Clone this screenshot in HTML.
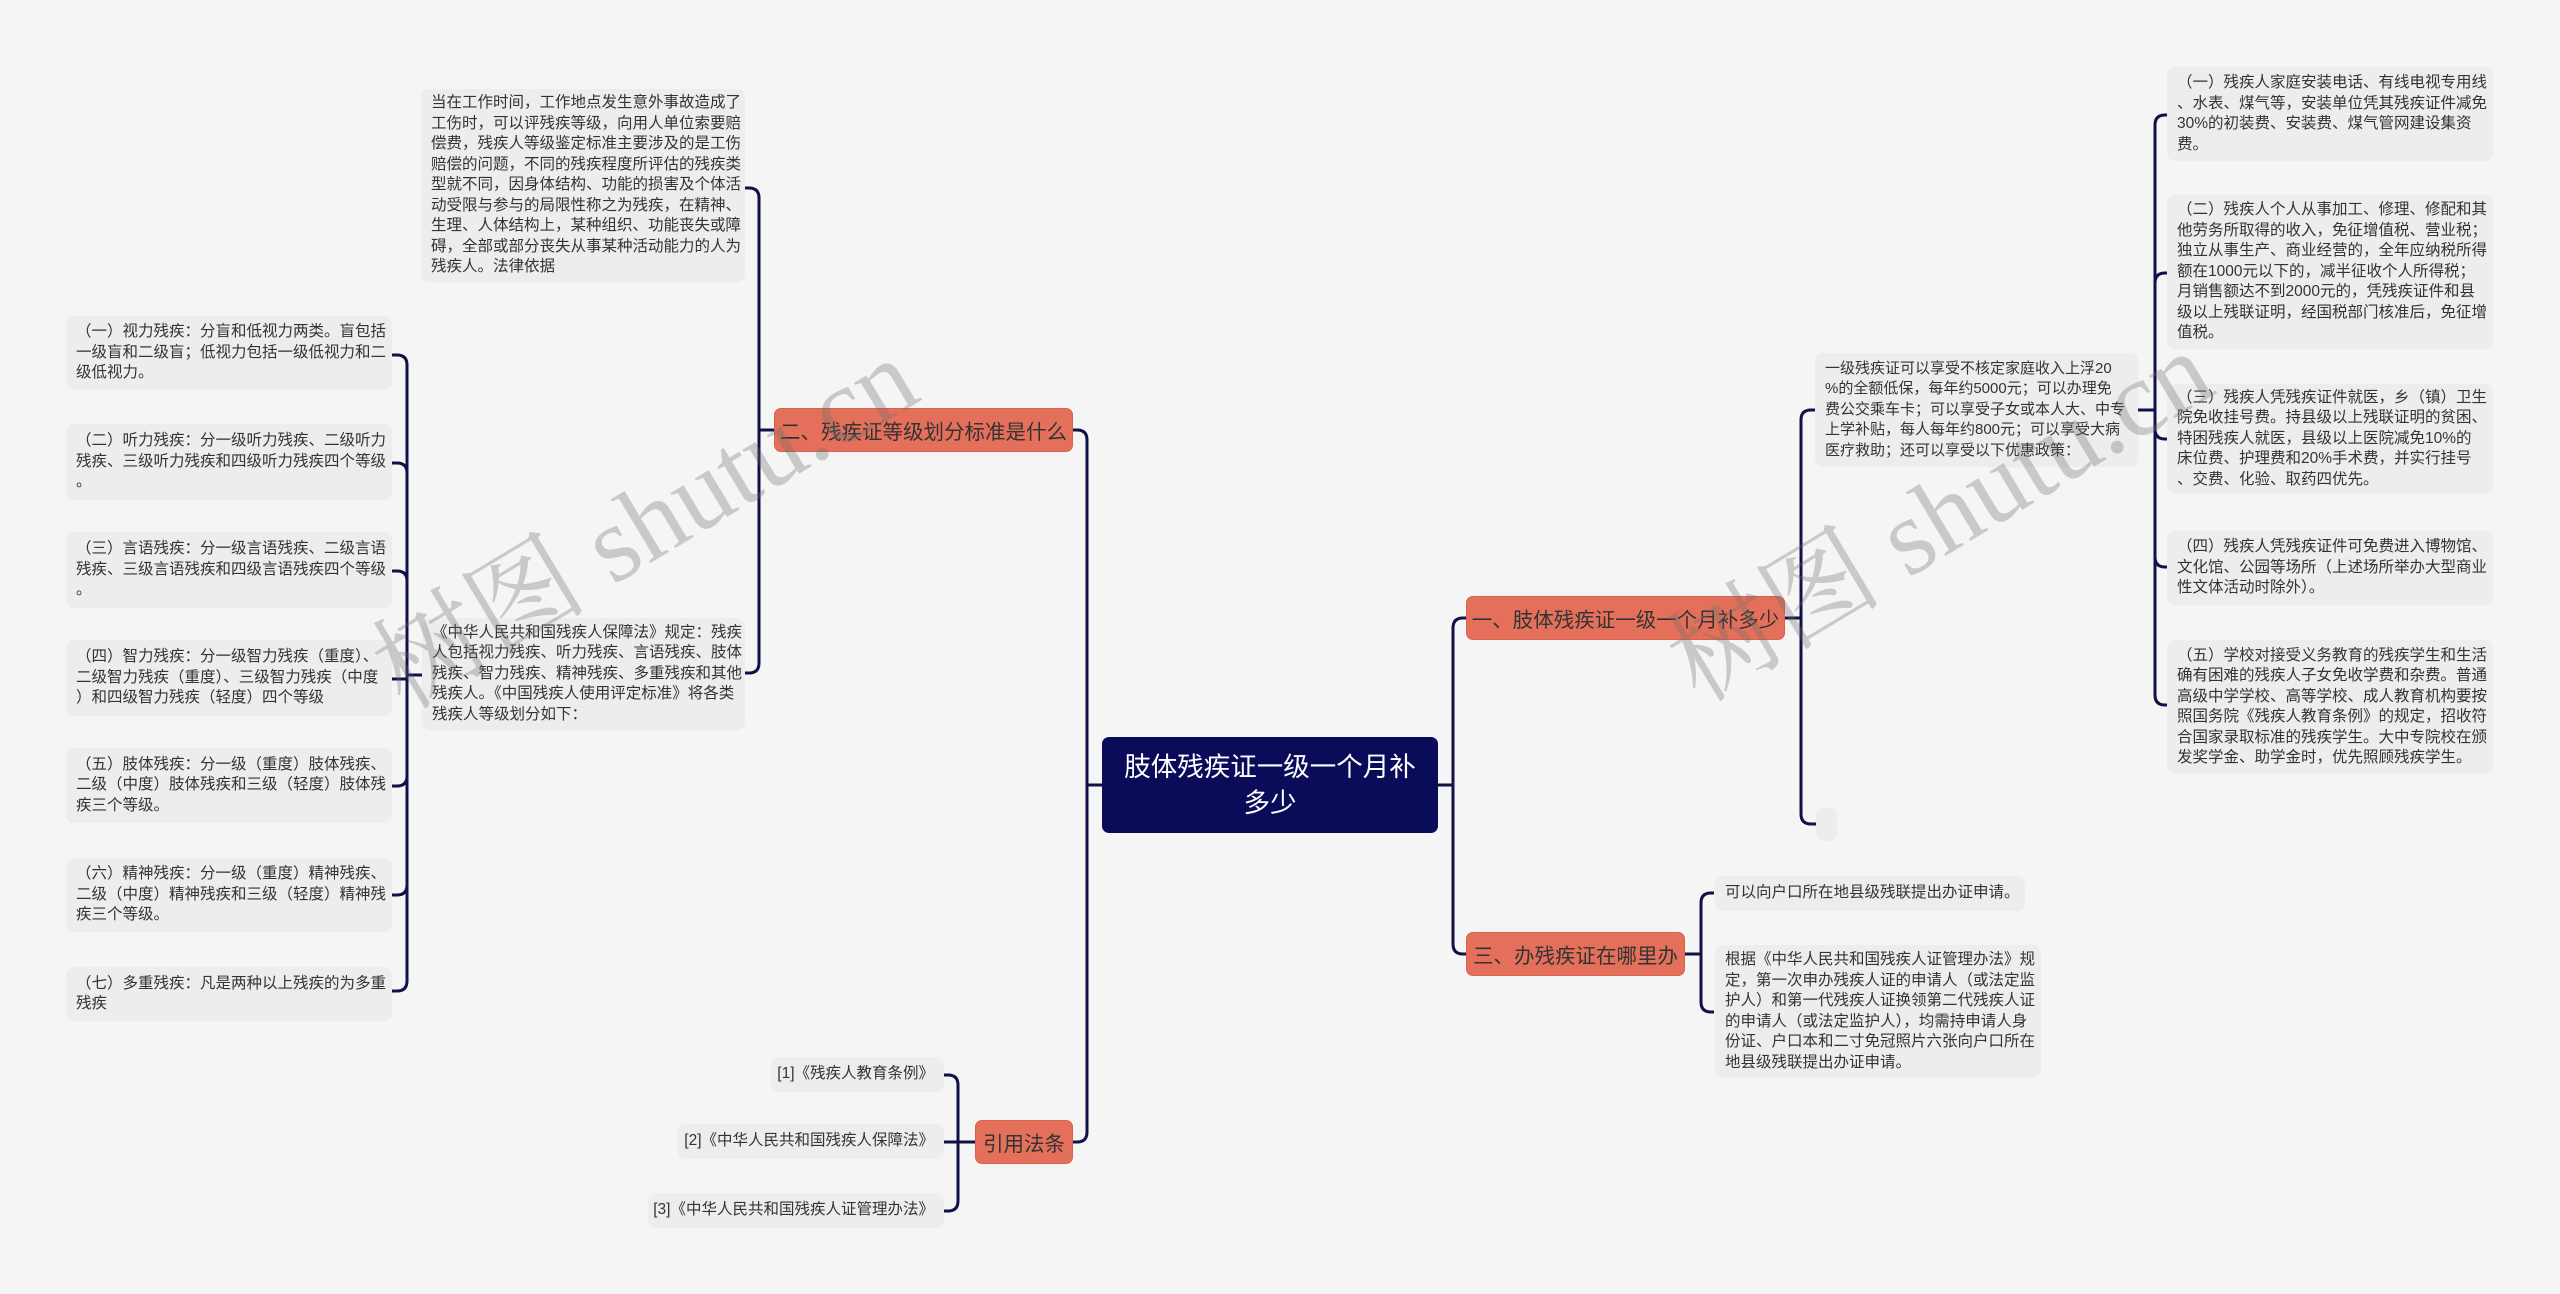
<!DOCTYPE html>
<html><head><meta charset="utf-8">
<style>
html,body{margin:0;padding:0}
body{width:2560px;height:1294px;background:#f5f5f5;position:relative;overflow:hidden;font-family:"Liberation Sans","Noto Sans CJK SC",sans-serif;color:#333}
.b{position:absolute;background:#ededed;border-radius:8px;box-sizing:border-box;font-size:15.5px;line-height:20.5px;white-space:nowrap;display:flex;flex-direction:column;justify-content:center;padding:0 8px 0 10px}
.br{position:absolute;background:#e4705b;border-radius:7px;box-sizing:border-box;font-size:20.5px;color:#333;display:flex;align-items:center;justify-content:center;white-space:nowrap;border:1px solid #d9604b}
.wm{position:absolute;font-family:"Liberation Serif","Noto Serif CJK SC",serif;font-size:108px;color:rgba(110,110,110,0.32);white-space:nowrap;transform-origin:center;transform:translate(-50%,-50%) rotate(-31deg)}
svg{position:absolute;left:0;top:0}
</style></head><body>
<svg width="2560" height="1294" fill="none" stroke="#0f1147" stroke-width="3">
<!-- root right -->
<path d="M1438,785 H1453"/>
<path d="M1453,785 V628 Q1453,618 1463,618 H1466"/>
<path d="M1453,785 V944 Q1453,954 1463,954 H1466"/>
<!-- root left -->
<path d="M1102,785 H1087"/>
<path d="M1087,785 V440 Q1087,430 1077,430 H1073"/>
<path d="M1087,785 V1132 Q1087,1142 1077,1142 H1073"/>
<!-- branch1 -->
<path d="M1785,618 H1801"/>
<path d="M1801,618 V420 Q1801,410 1811,410 H1816"/>
<path d="M1801,618 V814 Q1801,824 1811,824 H1816"/>
<!-- child1 -->
<path d="M2138,410 H2155"/>
<path d="M2155,410 V125 Q2155,115 2165,115 H2167"/>
<path d="M2155,410 V283 Q2155,273 2165,273 H2167"/>
<path d="M2155,410 V429 Q2155,439 2165,439 H2167"/>
<path d="M2155,410 V557 Q2155,567 2165,567 H2167"/>
<path d="M2155,410 V695 Q2155,705 2165,705 H2167"/>
<!-- branch3 -->
<path d="M1685,954 H1701"/>
<path d="M1701,954 V903 Q1701,893 1711,893 H1714"/>
<path d="M1701,954 V1002 Q1701,1012 1711,1012 H1714"/>
<!-- branch2 -->
<path d="M774,430 H759"/>
<path d="M759,430 V198 Q759,188 749,188 H745"/>
<path d="M759,430 V663 Q759,673 749,673 H745"/>
<!-- L2 -->
<path d="M422,675 H407"/>
<path d="M407,675 V365 Q407,355 397,355 H392"/>
<path d="M407,675 V473 Q407,463 397,463 H392"/>
<path d="M407,675 V581 Q407,571 397,571 H392"/>
<path d="M407,675 V679 H392"/>
<path d="M407,675 V776 Q407,786 397,786 H392"/>
<path d="M407,675 V885 Q407,895 397,895 H392"/>
<path d="M407,675 V981 Q407,991 397,991 H392"/>
<!-- 引用 -->
<path d="M975,1142 H958"/>
<path d="M958,1142 V1085 Q958,1075 948,1075 H944"/>
<path d="M958,1142 H944"/>
<path d="M958,1142 V1201 Q958,1211 948,1211 H944"/>
</svg>

<!-- root -->
<div style="position:absolute;left:1102px;top:737px;width:336px;height:96px;background:#0a0c59;border-radius:7px;color:#fff;font-size:26.5px;line-height:36px;text-align:center;display:flex;flex-direction:column;justify-content:center">肢体残疾证一级一个月补<br>多少</div>

<div class="br" style="left:1466px;top:596px;width:319px;height:44px">一、肢体残疾证一级一个月补多少</div>
<div class="br" style="left:1466px;top:932px;width:219px;height:44px">三、办残疾证在哪里办</div>
<div class="br" style="left:774px;top:408px;width:299px;height:44px">二、残疾证等级划分标准是什么</div>
<div class="br" style="left:975px;top:1120px;width:98px;height:44px">引用法条</div>

<!-- branch1 children -->
<div class="b" style="left:1815px;top:353px;width:323px;height:114px;font-size:15px">一级残疾证可以享受不核定家庭收入上浮20<br>%的全额低保，每年约5000元；可以办理免<br>费公交乘车卡；可以享受子女或本人大、中专<br>上学补贴，每人每年约800元；可以享受大病<br>医疗救助；还可以享受以下优惠政策：</div>
<div class="b" style="left:1816px;top:808px;width:21px;height:33px"></div>

<div class="b" style="left:2167px;top:67px;width:326px;height:94px">（一）残疾人家庭安装电话、有线电视专用线<br>、水表、煤气等，安装单位凭其残疾证件减免<br>30%的初装费、安装费、煤气管网建设集资<br>费。</div>
<div class="b" style="left:2167px;top:195px;width:326px;height:154px">（二）残疾人个人从事加工、修理、修配和其<br>他劳务所取得的收入，免征增值税、营业税；<br>独立从事生产、商业经营的，全年应纳税所得<br>额在1000元以下的，减半征收个人所得税；<br>月销售额达不到2000元的，凭残疾证件和县<br>级以上残联证明，经国税部门核准后，免征增<br>值税。</div>
<div class="b" style="left:2167px;top:384px;width:326px;height:110px">（三）残疾人凭残疾证件就医，乡（镇）卫生<br>院免收挂号费。持县级以上残联证明的贫困、<br>特困残疾人就医，县级以上医院减免10%的<br>床位费、护理费和20%手术费，并实行挂号<br>、交费、化验、取药四优先。</div>
<div class="b" style="left:2167px;top:531px;width:326px;height:74px">（四）残疾人凭残疾证件可免费进入博物馆、<br>文化馆、公园等场所（上述场所举办大型商业<br>性文体活动时除外）。</div>
<div class="b" style="left:2167px;top:640px;width:326px;height:134px">（五）学校对接受义务教育的残疾学生和生活<br>确有困难的残疾人子女免收学费和杂费。普通<br>高级中学学校、高等学校、成人教育机构要按<br>照国务院《残疾人教育条例》的规定，招收符<br>合国家录取标准的残疾学生。大中专院校在颁<br>发奖学金、助学金时，优先照顾残疾学生。</div>

<!-- branch3 children -->
<div class="b" style="left:1715px;top:876px;width:310px;height:35px">可以向户口所在地县级残联提出办证申请。</div>
<div class="b" style="left:1715px;top:945px;width:326px;height:133px">根据《中华人民共和国残疾人证管理办法》规<br>定，第一次申办残疾人证的申请人（或法定监<br>护人）和第一代残疾人证换领第二代残疾人证<br>的申请人（或法定监护人），均需持申请人身<br>份证、户口本和二寸免冠照片六张向户口所在<br>地县级残联提出办证申请。</div>

<!-- branch2 children -->
<div class="b" style="left:421px;top:89px;width:324px;height:193px">当在工作时间，工作地点发生意外事故造成了<br>工伤时，可以评残疾等级，向用人单位索要赔<br>偿费，残疾人等级鉴定标准主要涉及的是工伤<br>赔偿的问题，不同的残疾程度所评估的残疾类<br>型就不同，因身体结构、功能的损害及个体活<br>动受限与参与的局限性称之为残疾，在精神、<br>生理、人体结构上，某种组织、功能丧失或障<br>碍，全部或部分丧失从事某种活动能力的人为<br>残疾人。法律依据</div>
<div class="b" style="left:422px;top:618px;width:323px;height:112px">《中华人民共和国残疾人保障法》规定：残疾<br>人包括视力残疾、听力残疾、言语残疾、肢体<br>残疾、智力残疾、精神残疾、多重残疾和其他<br>残疾人。《中国残疾人使用评定标准》将各类<br>残疾人等级划分如下：</div>

<div class="b" style="left:66px;top:316px;width:326px;height:74px">（一）视力残疾：分盲和低视力两类。盲包括<br>一级盲和二级盲；低视力包括一级低视力和二<br>级低视力。</div>
<div class="b" style="left:66px;top:424px;width:326px;height:76px">（二）听力残疾：分一级听力残疾、二级听力<br>残疾、三级听力残疾和四级听力残疾四个等级<br>。</div>
<div class="b" style="left:66px;top:532px;width:326px;height:76px">（三）言语残疾：分一级言语残疾、二级言语<br>残疾、三级言语残疾和四级言语残疾四个等级<br>。</div>
<div class="b" style="left:66px;top:640px;width:326px;height:76px">（四）智力残疾：分一级智力残疾（重度）、<br>二级智力残疾（重度）、三级智力残疾（中度<br>）和四级智力残疾（轻度）四个等级</div>
<div class="b" style="left:66px;top:748px;width:326px;height:75px">（五）肢体残疾：分一级（重度）肢体残疾、<br>二级（中度）肢体残疾和三级（轻度）肢体残<br>疾三个等级。</div>
<div class="b" style="left:66px;top:858px;width:326px;height:74px">（六）精神残疾：分一级（重度）精神残疾、<br>二级（中度）精神残疾和三级（轻度）精神残<br>疾三个等级。</div>
<div class="b" style="left:66px;top:967px;width:326px;height:54px">（七）多重残疾：凡是两种以上残疾的为多重<br>残疾</div>

<!-- 引用 children -->
<div class="b" style="left:771px;top:1057px;width:173px;height:35px;align-items:flex-end;padding-right:10px">[1]《残疾人教育条例》</div>
<div class="b" style="left:678px;top:1124px;width:266px;height:35px;align-items:flex-end;padding-right:10px">[2]《中华人民共和国残疾人保障法》</div>
<div class="b" style="left:648px;top:1193px;width:296px;height:35px;align-items:flex-end;padding-right:10px">[3]《中华人民共和国残疾人证管理办法》</div>

<div class="wm" style="left:640px;top:515px">树图 shutu.cn</div>
<div class="wm" style="left:1935px;top:508px">树图 shutu.cn</div>
</body></html>
